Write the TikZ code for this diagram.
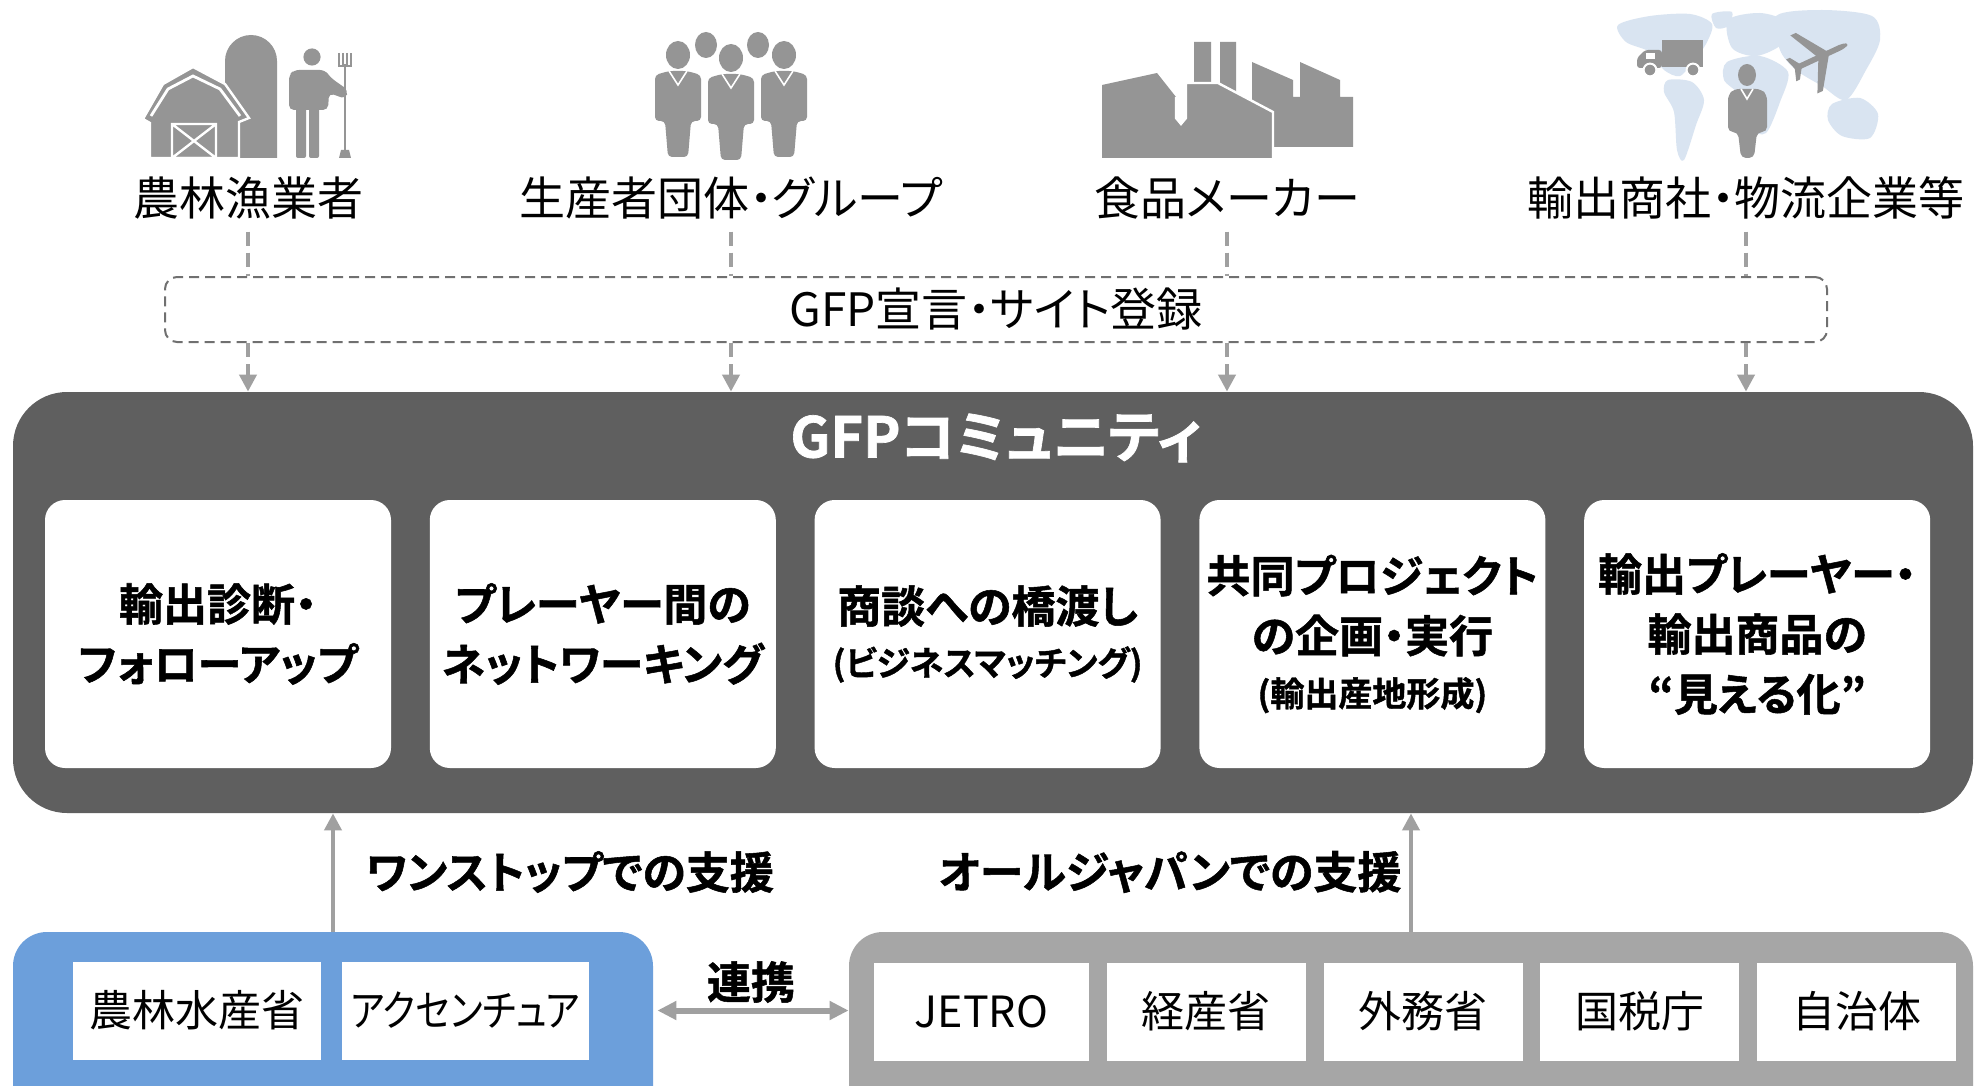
\documentclass[tikz,border=0pt]{standalone}
\usepackage{fontspec}
\setmainfont{Noto Sans CJK JP}[BoldFont={Noto Sans CJK JP Bold},
  BoldFeatures={FakeBold=1.2}, RawFeature=+palt]
\newfontfamily\narrowkana{Noto Sans CJK JP}[FakeStretch=0.85, RawFeature=+palt]
\usetikzlibrary{positioning,arrows.meta}
\definecolor{panel}{HTML}{5F5F5F}
\definecolor{icon}{HTML}{959595}
\definecolor{mapblue}{HTML}{D9E4F1}
\definecolor{link}{HTML}{A0A0A0}
\definecolor{frame}{HTML}{707070}
\definecolor{maff}{HTML}{6C9FDB}
\definecolor{allj}{HTML}{A6A6A6}

\begin{document}
\begin{tikzpicture}[
  x=0.5pt, y=-0.5pt,
  >={Triangle[length=8.5pt,width=8.5pt]},
  actor/.style={font=\fontsize{23pt}{27pt}\selectfont, inner sep=2pt},
  regbox/.style={draw=frame, line width=1pt, dash pattern=on 5pt off 3pt,
                 rounded corners=6pt, minimum width=831pt, minimum height=32.5pt,
                 font=\fontsize{23pt}{27pt}\selectfont},
  community/.style={fill=panel, rounded corners=27pt,
                    minimum width=980pt, minimum height=210.5pt},
  card/.style={fill=white, rounded corners=10pt, minimum width=173pt,
               minimum height=134pt, inner xsep=2pt, text width=169pt,
               align=center, font=\bfseries\fontsize{22pt}{30pt}\selectfont},
  hub/.style={rounded corners=17pt, minimum height=100pt},
  org/.style={fill=white, minimum height=49pt, inner sep=0pt,
              font=\fontsize{21.5pt}{25pt}\selectfont},
  feedline/.style={draw=link, line width=2pt, dash pattern=on 7pt off 3.5pt},
  support/.style={->, draw=link, line width=2pt},
  tag/.style={font=\bfseries\fontsize{22pt}{26pt}\selectfont},
  suit/.pic={
    \fill (0,0) ellipse[x radius=6pt, y radius=7pt];
    \fill[rounded corners=2pt] (-23,20) -- (-9,16) -- (9,16) -- (23,20) -- (23,66)
      -- (13,66) -- (10,102) -- (-10,102) -- (-13,66) -- (-23,66) -- cycle;
    \draw[white, line width=0.8pt] (-9,16) -- (0,30) -- (9,16);
  },
]
\useasboundingbox (0,0) rectangle (1977,1086);
\clip (0,0) rectangle (1977,1086);
\fill[white] (0,0) rectangle (1977,1086);

% --- icons over the four kinds of player ---
% farm: silo, barn, farmer with pitchfork
\fill[icon] (225,158) -- (225,61) arc[start angle=180, end angle=0, radius=13pt]
  -- (277,158) -- cycle;
\filldraw[fill=icon, draw=white, line width=1.2pt] (143,119) -- (163,84) -- (193,67)
  -- (225,84) -- (249,118) -- (239,122) -- (239,158) -- (150,158) -- (150,123) -- cycle;
\draw[white, line width=1.4pt] (151,116) -- (168,89) -- (193,76) -- (220,89) -- (240,116);
\draw[white, line width=1.2pt] (172,124) rectangle (216,158)
  (172,124) -- (216,158) (216,124) -- (172,158);
\fill[icon] (312,57) circle[radius=4.3pt];
\fill[icon, rounded corners=2.5pt] (289,110) -- (289,75) -- (294,70) -- (325,70)
  -- (331,78) -- (348,90) -- (346,99) -- (329,93) -- (328,110) -- cycle;
\fill[icon, rounded corners=1pt] (296,100) rectangle (306,158) (309,100) rectangle (319,158);
\draw[icon, line width=1pt] (345,64) -- (345,152);
\draw[icon, line width=0.7pt] (339,53) -- (339,66) -- (351,66) -- (351,53)
  (343,53) -- (343,66) (347,53) -- (347,66);
\fill[icon] (341,150) -- (349,150) -- (351,158) -- (339,158) -- cycle;

% producer groups
\begin{scope}[fill=icon]
  \fill (706,45) ellipse[x radius=5.5pt, y radius=6.5pt];
  \fill (758,45) ellipse[x radius=5.5pt, y radius=6.5pt];
  \pic at (678,55) {suit};
  \pic at (731,58) {suit};
  \pic at (784,55) {suit};
\end{scope}

% factory
\fill[icon] (1252,147) -- (1252,62) -- (1293,80) -- (1293,97) -- (1300,97)
  -- (1300,62) -- (1340,80) -- (1340,97) -- (1353,97) -- (1353,147) -- cycle;
\fill[icon] (1194,42) rectangle (1211,90) (1220,42) rectangle (1236,92);
\fill[icon] (1102,158) -- (1102,85) -- (1157,73) -- (1176,97) -- (1176,118)
  -- (1181,124) -- (1186,118) -- (1186,83) -- (1218,83) -- (1272,112)
  -- (1272,158) -- cycle;
\draw[white, line width=1.2pt] (1176,97) -- (1176,118) -- (1181,124) -- (1186,118)
  -- (1186,83) -- (1218,83) -- (1273,112) -- (1273,158);

% world map with truck, trader and plane
\fill[mapblue] plot[smooth cycle] coordinates {(1618,25) (1650,16) (1690,14)
  (1712,24) (1706,44) (1694,60) (1680,76) (1664,70) (1650,52) (1626,42)};
\fill[mapblue] plot[smooth cycle] coordinates {(1712,14) (1732,12) (1728,26) (1716,28)};
\fill[mapblue] plot[smooth cycle] coordinates {(1668,80) (1692,82) (1704,100)
  (1696,125) (1684,160) (1677,150) (1674,112) (1664,92)};
\fill[mapblue] plot[smooth cycle] coordinates {(1728,20) (1760,13) (1786,22)
  (1782,44) (1756,56) (1732,48)};
\fill[mapblue] plot[smooth cycle] coordinates {(1727,62) (1760,56) (1788,72)
  (1780,102) (1766,133) (1750,128) (1740,96) (1724,80)};
\fill[mapblue] plot[smooth cycle] coordinates {(1776,16) (1822,10) (1872,16)
  (1880,40) (1866,70) (1846,100) (1822,86) (1796,70) (1780,50)};
\fill[mapblue] plot[smooth cycle] coordinates {(1832,104) (1860,98) (1878,114)
  (1870,138) (1842,136) (1828,120)};
\fill[icon] (1662,40) rectangle (1703,67);
\fill[icon, rounded corners=1.5pt] (1637,68) -- (1637,58) -- (1645,50) -- (1662,50)
  -- (1662,68) -- cycle;
\fill[white] (1646,53) rectangle (1655,59);
\filldraw[fill=icon, draw=white, line width=1pt] (1650,70) circle[radius=3.2pt]
  (1693,70) circle[radius=3.2pt];
\fill[icon] (1747,75) ellipse[x radius=4.5pt, y radius=5.5pt];
\fill[icon, rounded corners=2.5pt] (1728,132) -- (1728,95) -- (1734,89) -- (1761,89)
  -- (1767,95) -- (1767,132) -- (1757,132) -- (1754,158) -- (1741,158) -- (1738,132) -- cycle;
\draw[white, line width=0.8pt] (1741,89) -- (1747,99) -- (1753,89);
\begin{scope}[shift={(1822,56)}, rotate=25]
  \fill[icon, rounded corners=2pt] (-30,-2.8) -- (24,-2.8) -- (30,0) -- (24,2.8)
    -- (-30,2.8) -- cycle;
  \fill[icon] (8,0) -- (-14,-32) -- (-20,-32) -- (-4,0) -- (-20,32) -- (-14,32) -- cycle;
  \fill[icon] (-22,0) -- (-30,-12) -- (-34,-12) -- (-30,0) -- (-34,12) -- (-30,12) -- cycle;
\end{scope}

% --- who joins ---
\node[actor] (farm)   at (248,198)  {農林漁業者};
\node[actor] (group)  at (731,198)  {生産者団体・グループ};
\node[actor] (maker)  at (1227,198) {食品メーカー};
\node[actor] (trader) at (1746,198) {輸出商社・物流企業等};

\node[regbox] (reg) at (996,309.5) {GFP宣言・サイト登録};

% --- community and its services ---
\node[community] (gfp) at (993,602.5) {};
\node[text=white, font=\bfseries\fontsize{28pt}{32pt}\selectfont] (title)
  at (996,438) {GFPコミュニティ};

\node[card] (c1) at (218,634) {輸出診断・\\フォローアップ};
\node[card, right=19pt of c1] (c2) {プレーヤー間の\\ネットワーキング};
\node[card, right=19pt of c2] (c3)
  {商談への橋渡し\\[-3.5pt]{\fontsize{17pt}{20pt}\selectfont (ビジネスマッチング)}};
\node[card, right=19pt of c3] (c4)
  {共同プロジェクト\\の企画・実行\\[-3pt]{\fontsize{17pt}{20pt}\selectfont (輸出産地形成)}};
\node[card, right=19pt of c4] (c5) {輸出プレーヤー・\\輸出商品の\\“見える化”};

\foreach \who in {farm,group,maker,trader} {
  \draw[feedline, shorten <=4pt] (\who.south) -- (\who.south |- reg.north);
  \draw[feedline, ->] (\who.south |- reg.south) -- (\who.south |- gfp.north);
}

% --- support side ---
\node[hub, fill=maff, minimum width=320pt] (maffbox) at (333,1032) {};
\node[org, minimum width=124pt] (maff) at (197,1010.5) {農林水産省};
\node[org, minimum width=123.5pt, right=10pt of maff] (acn) {\narrowkana アクセンチュア};

\node[hub, fill=allj, minimum width=562pt] (alljbox) at (1411,1032) {};
\node[org, minimum width=107.5pt] (jetro) at (981.5,1011.5) {JETRO};
\node[org, minimum width=99.5pt, right=8.5pt of jetro] (meti) {経産省};
\node[org, minimum width=99.5pt, right=8.5pt of meti] (mofa) {外務省};
\node[org, minimum width=99.5pt, right=8.5pt of mofa] (nta) {国税庁};
\node[org, minimum width=99.5pt, right=8.5pt of nta] (local) {自治体};

\draw[support] (maffbox.north) -- (maffbox.north |- gfp.south);
\draw[support] (alljbox.north) -- (alljbox.north |- gfp.south);
\node[tag] (onestop) at (570,872) {ワンストップでの支援};
\node[tag] (alljapan) at (1170,872) {オールジャパンでの支援};

\draw[{Triangle[length=9.5pt,width=9pt]}-{Triangle[length=9.5pt,width=9pt]},
      draw=link, line width=3pt, shorten <=2pt]
  (maff.east -| maffbox.east) -- (maff.east -| alljbox.west);
\node[tag] (tie) at (751,982) {連携};

\end{tikzpicture}
\end{document}
